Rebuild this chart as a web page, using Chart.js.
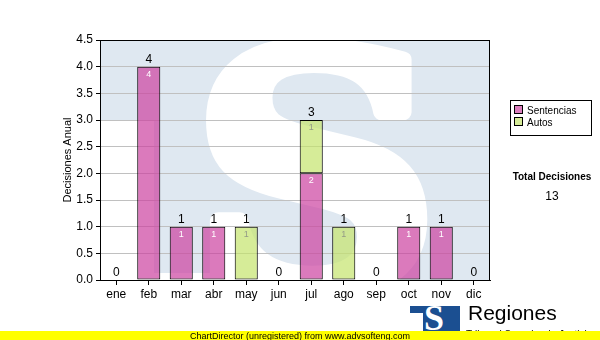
<!DOCTYPE html>
<html>
<head>
<meta charset="utf-8">
<script src="https://cdn.jsdelivr.net/npm/chart.js@4.4.1/dist/chart.umd.min.js"></script>
<style>
  body { margin: 0; background: #fff; }
  #wrap { position: relative; width: 600px; height: 340px; overflow: hidden; font-family: "Liberation Sans", Arial, sans-serif; }
  #chart { position: absolute; left: 0; top: 0; }
  #legend { position: absolute; left: 510px; top: 100px; width: 80px; height: 34px; border: 1px solid #000; background: #fff; font-size: 10px; }
  #legend .item { position: absolute; left: 3px; height: 12px; line-height: 12px; white-space: nowrap; }
  #legend .sw { display: inline-block; width: 7px; height: 7px; border: 1px solid #000; margin-right: 4px; vertical-align: 0px; }
  #totalTitle { position: absolute; left: 500px; width: 104px; top: 171px; text-align: center; font-weight: bold; font-size: 10px; }
  #totalValue { position: absolute; left: 500px; width: 104px; top: 189px; text-align: center; font-size: 12px; }
  #logo { position: absolute; left: 410px; top: 306px; width: 50px; height: 30px; background: #1b4f91; overflow: hidden; }
  #logo .cut { position: absolute; left: 0; top: 7px; width: 13px; height: 30px; background: #fff; }
  #logo .s { position: absolute; left: 14px; top: -6px; color: #fff; font: bold 36px "Liberation Serif", serif; line-height: 36px; }
  #brand { position: absolute; left: 468px; top: 301px; font-size: 21px; line-height: 24px; color: #000; }
  #brandSub { position: absolute; left: 466px; top: 329px; font-size: 10px; line-height: 12px; color: #000; white-space: nowrap; }
  #footer { position: absolute; left: 0; top: 331px; width: 600px; height: 10px; background: #ffff00; text-align: center; font-size: 9px; line-height: 10px; color: #000; }
</style>
</head>
<body>
<div id="wrap">
  <canvas id="chart" width="600" height="340"></canvas>
  <div id="legend"></div>
  <div id="totalTitle">Total Decisiones</div>
  <div id="totalValue"></div>
  <div id="logo"><div class="cut"></div><div class="s">S</div></div>
  <div id="brand">Regiones</div>
  <div id="brandSub">Tribunal Superior de Justicia</div>
  <div id="footer">ChartDirector (unregistered) from www.advsofteng.com</div>
</div>
<script>
const months = ['ene', 'feb', 'mar', 'abr', 'may', 'jun', 'jul', 'ago', 'sep', 'oct', 'nov', 'dic'];
const sentencias = [0, 4, 1, 1, 0, 0, 2, 0, 0, 1, 1, 0];
const autos = [0, 0, 0, 0, 1, 0, 1, 1, 0, 0, 0, 0];
const seriesNames = ['Sentencias', 'Autos'];
const seriesColors = ['rgba(204, 66, 160, 0.7)', 'rgba(196, 228, 108, 0.7)'];
const legendColors = ['#dc7ebe', '#d6ec98'];
const innerLabelColors = ['#ffffff', '#939a86'];
const yMax = 4.5;
const yStep = 0.5;

const font = '"Liberation Sans", Arial, sans-serif';

// legend + total as html
const legendEl = document.getElementById('legend');
seriesNames.forEach((name, i) => {
    const item = document.createElement('div');
    item.className = 'item';
    item.style.top = (4 + i * 12) + 'px';
    item.innerHTML = `<span class="sw" style="background:${legendColors[i]}"></span>${name}`;
    legendEl.appendChild(item);
});
const total = sentencias.concat(autos).reduce((a, b) => a + b, 0);
document.getElementById('totalValue').textContent = total;

// pale "S" watermark behind the plot
const plotBackground = {
    id: 'plotBackground',
    beforeDraw(chart) {
        const { ctx, chartArea: a } = chart;
        ctx.save();
        ctx.beginPath();
        ctx.rect(a.left, a.top, a.right - a.left, a.bottom - a.top);
        ctx.clip();
        ctx.fillStyle = '#dfe8f1';
        ctx.fillRect(a.left, a.top, a.right - a.left, a.bottom - a.top);
        ctx.fillStyle = '#fff';
        ctx.fillRect(a.left, a.top + 80, 54, a.bottom - a.top);
        ctx.fillRect(a.left, a.bottom - 7, 120, 7);
        ctx.font = 'bold 100px "DejaVu Serif", serif';
        const m = ctx.measureText('S');
        const thick = 5;
        const gw = m.actualBoundingBoxLeft + m.actualBoundingBoxRight + thick;
        const gh = m.actualBoundingBoxAscent + m.actualBoundingBoxDescent + thick;
        ctx.translate(a.left + 104, a.top - 2);
        ctx.scale(226 / gw, 262 / gh);
        ctx.textAlign = 'left';
        ctx.textBaseline = 'alphabetic';
        ctx.strokeStyle = '#fff';
        ctx.lineWidth = thick;
        ctx.lineJoin = 'round';
        const gx = m.actualBoundingBoxLeft + thick / 2;
        const gy = m.actualBoundingBoxAscent + thick / 2;
        ctx.fillText('S', gx, gy);
        ctx.strokeText('S', gx, gy);
        ctx.restore();
    }
};

const barLabels = {
    id: 'barLabels',
    afterDatasetsDraw(chart) {
        const { ctx, chartArea: a, scales: { y } } = chart;
        ctx.save();
        ctx.strokeStyle = '#000';
        ctx.lineWidth = 1;
        ctx.strokeRect(a.left + 0.5, a.top + 0.5, a.right - a.left - 1, a.bottom - a.top);
        ctx.textAlign = 'center';
        months.forEach((m, i) => {
            const x = chart.getDatasetMeta(0).data[i].x;
            const sum = sentencias[i] + autos[i];
            ctx.font = '12px ' + font;
            ctx.fillStyle = '#000';
            ctx.textBaseline = 'bottom';
            ctx.fillText(String(sum), x, y.getPixelForValue(sum) - 1);
            [sentencias, autos].forEach((arr, d) => {
                if (arr[i] > 0) {
                    const el = chart.getDatasetMeta(d).data[i];
                    ctx.font = '9px ' + font;
                    ctx.fillStyle = innerLabelColors[d];
                    ctx.textBaseline = 'top';
                    ctx.fillText(String(arr[i]), el.x, el.y + 3);
                }
            });
        });
        ctx.restore();
    }
};

const chart = document.querySelector('#chart').getContext('2d');
new Chart(chart, {
    type: 'bar',
    data: {
        labels: months,
        datasets: [
            {
                label: seriesNames[0],
                data: sentencias,
                backgroundColor: seriesColors[0],
                borderColor: '#000',
                borderWidth: 1,
                borderSkipped: false,
                barPercentage: 0.71,
                categoryPercentage: 1
            },
            {
                label: seriesNames[1],
                data: autos,
                backgroundColor: seriesColors[1],
                borderColor: '#000',
                borderWidth: 1,
                borderSkipped: false,
                barPercentage: 0.71,
                categoryPercentage: 1
            }
        ]
    },
    options: {
        responsive: false,
        animation: false,
        layout: { padding: { top: 40, right: 110, bottom: 30, left: 0 } },
        plugins: { legend: { display: false }, tooltip: { enabled: false } },
        scales: {
            x: {
                stacked: true,
                grid: { offset: false, drawOnChartArea: false, tickLength: 5, tickColor: '#000' },
                border: { color: '#000' },
                ticks: { color: '#000', font: { family: font, size: 12 }, padding: 2, maxRotation: 0 },
                afterFit(s) { s.height = 30; }
            },
            y: {
                stacked: true,
                min: 0,
                max: yMax,
                ticks: {
                    stepSize: yStep,
                    callback: v => v.toFixed(1),
                    color: '#000',
                    font: { family: font, size: 12 },
                    padding: 3
                },
                grid: { color: '#c0c0c0', tickColor: '#000', tickLength: 4 },
                border: { color: '#000' },
                title: {
                    display: true,
                    text: 'Decisiones Anual',
                    color: '#000',
                    font: { family: font, size: 11 },
                    padding: { top: 61, bottom: 0 }
                },
                afterFit(s) { s.width = 100; }
            }
        }
    },
    plugins: [plotBackground, barLabels]
});
</script>
</body>
</html>
